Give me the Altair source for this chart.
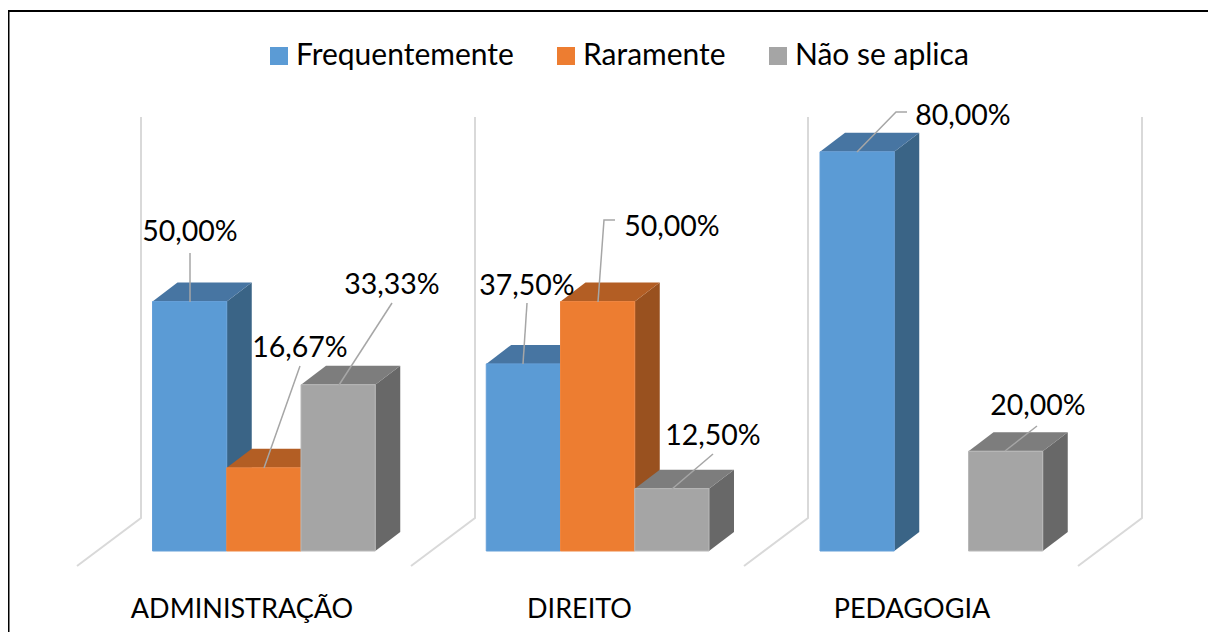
import altair as alt
import pandas as pd

# ---- data ----
groups = ["ADMINISTRAÇÃO", "DIREITO", "PEDAGOGIA"]
series = ["Frequentemente", "Raramente", "Não se aplica"]
frequentemente = [50.00, 37.50, 80.00]
raramente = [16.67, 50.00, None]
nao_se_aplica = [33.33, 12.50, 20.00]
values = [frequentemente, raramente, nao_se_aplica]

# ---- colours ----
front = ["#5B9BD5", "#ED7D31", "#A5A5A5"]
edge = ["#659FD8", "#EE8540", "#B8B8B8"]
top_c = ["#4775A2", "#B35E24", "#7D7D7D"]
side_c = ["#3A6486", "#99511F", "#686868"]
FONT = "Lato"
TXT = 28.5

# ---- layout (page pixels) ----
W, H = 1200, 624
ORIGIN = 8
SLOT = 74.25          # px per bar
X0 = 152.5            # left edge of first bar
STEP = 333.75 / SLOT  # slots per group
Y0 = 551.0            # baseline
PCT = 4.99            # px per percent
DX = 25.0 / SLOT
DY = 19.0 / PCT


def ux(px):
    return (px - X0) / SLOT


def uy(py):
    return (Y0 - py) / PCT


xs = alt.Scale(domain=[ux(ORIGIN), ux(ORIGIN + W)], nice=False, zero=False)
ys = alt.Scale(domain=[uy(ORIGIN + H), uy(ORIGIN)], nice=False, zero=False)
X = lambda f="x": alt.X(f"{f}:Q", scale=xs, axis=None)
Y = lambda f="y": alt.Y(f"{f}:Q", scale=ys, axis=None)

layers = []


def polyline(points, color, width):
    df = pd.DataFrame(
        [{"x": ux(a), "y": uy(b), "i": i} for i, (a, b) in enumerate(points)]
    )
    return (
        alt.Chart(df)
        .mark_line(color=color, strokeWidth=width, clip=False)
        .encode(x=X(), y=Y(), order=alt.Order("i:Q"))
    )


# frame
layers.append(polyline([(8.5, 632), (8.5, 11), (1208, 11)], "#000000", 2))

# back walls and floor lines
for wx in [141, 475, 808, 1142]:
    layers.append(polyline([(wx, 117), (wx, 518), (wx - 64, 566)], "#D9D9D9", 2))

# bars: back to front, left to right
for g in range(len(groups)):
    for s in range(len(series)):
        v = values[s][g]
        if v is None:
            continue
        x0 = g * STEP + s
        x1 = x0 + 1
        side = pd.DataFrame(
            {"x": [x1, x1 + DX], "y": [0, DY], "y2": [v, v + DY]}
        )
        layers.append(
            alt.Chart(side)
            .mark_area(color=side_c[s], orient="vertical", strokeWidth=0)
            .encode(x=X(), y=Y(), y2="y2:Q")
        )
        top = pd.DataFrame(
            {"y": [v, v + DY], "x": [x0, x0 + DX], "x2": [x1, x1 + DX]}
        )
        layers.append(
            alt.Chart(top)
            .mark_area(color=top_c[s], orient="horizontal", strokeWidth=0)
            .encode(y=Y(), x=X(), x2="x2:Q")
        )
        face = pd.DataFrame(
            {"x": [x0], "x2": [x1], "y": [0.0], "y2": [v], "series": [series[s]]}
        )
        layers.append(
            alt.Chart(face)
            .mark_bar(stroke=edge[s], strokeWidth=1)
            .encode(
                x=X(),
                x2="x2:Q",
                y=Y(),
                y2="y2:Q",
                color=alt.Color(
                    "series:N",
                    scale=alt.Scale(domain=series, range=front),
                    legend=alt.Legend(
                        orient="none",
                        legendX=256,
                        legendY=33,
                        direction="horizontal",
                        columns=3,
                        title=None,
                        symbolType="square",
                        symbolSize=324,
                        symbolStrokeWidth=0,
                        labelFont=FONT,
                        labelFontSize=30,
                        labelColor="#000000",
                        labelOffset=2,
                        columnPadding=37,
                        labelLimit=400,
                    ),
                ),
            )
        )

# leader lines
leaders = [
    [(190, 302), (190, 253)],
    [(264, 468), (300, 366)],
    [(339, 385), (392, 303)],
    [(523, 364), (527, 303)],
    [(598, 302), (604, 220), (615, 220)],
    [(672, 489), (713, 454)],
    [(857, 152), (896, 112), (907, 112)],
    [(1005, 451), (1037, 426)],
]
for pts in leaders:
    layers.append(polyline(pts, "#A6A6A6", 1.5))

# data labels
label_xy = [
    (0, 0, 190, 231.5), (1, 0, 300, 347.5), (2, 0, 392, 284.5),
    (0, 1, 527, 285.5), (1, 1, 672, 226.5), (2, 1, 713, 435.5),
    (0, 2, 963, 115.5), (2, 2, 1038, 405.5),
]
lab = pd.DataFrame(
    [
        {
            "x": ux(px),
            "y": uy(py),
            "t": f"{values[s][g]:.2f}%".replace(".", ","),
        }
        for s, g, px, py in label_xy
    ]
)
layers.append(
    alt.Chart(lab)
    .mark_text(font=FONT, fontSize=TXT, color="#000000", baseline="middle")
    .encode(x=X(), y=Y(), text="t:N")
)

# category labels
cat = pd.DataFrame(
    {
        "x": [ux(242), ux(579.5), ux(912)],
        "y": [uy(610)] * 3,
        "t": groups,
    }
)
layers.append(
    alt.Chart(cat)
    .mark_text(font=FONT, fontSize=27, color="#000000", baseline="middle")
    .encode(x=X(), y=Y(), text="t:N")
)

chart = (
    alt.layer(*layers)
    .properties(width=W, height=H, padding=0, background="#FFFFFF",
                autosize=alt.AutoSizeParams(type="none"))
    .configure_view(stroke=None)
)
chart.save("out.html", embed_options={"renderer": "svg", "actions": False})
